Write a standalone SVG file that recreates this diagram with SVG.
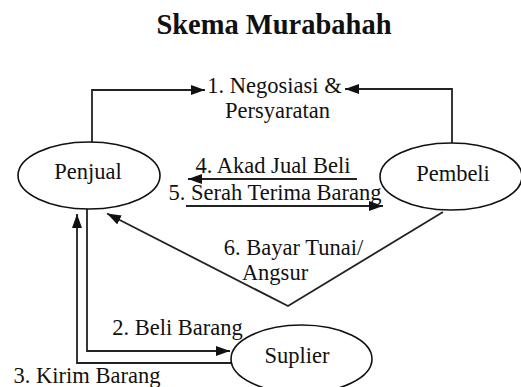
<svg xmlns="http://www.w3.org/2000/svg" width="521" height="387" viewBox="0 0 521 387">
<style>
text{font-family:'Liberation Serif','Times New Roman',Times,serif;font-size:22.5px;fill:#111;text-anchor:middle}
.title{font-size:28.5px;font-weight:bold}
.node ellipse{fill:#fff;stroke:#111;stroke-width:1.6}
.conn path{fill:none;stroke:#222;stroke-width:1.8;marker-end:url(#ah)}
</style>
<defs>
<marker id="ah" markerUnits="userSpaceOnUse" markerWidth="15" markerHeight="11" refX="14" refY="5" orient="auto">
<path d="M0,0 L14,5 L0,10 z" fill="#111"/>
</marker>
</defs>
<rect width="521" height="387" fill="#fff"/>
<text class="title" x="274" y="34" font-family="Liberation Serif, serif">Skema Murabahah</text>
<g class="conn" id="connectors">
<path d="M92,143 V90 H205"/>
<path d="M452,143 V89 H345"/>
<path d="M357,179 H188"/>
<path d="M186,206 H383"/>
<path d="M443,212 L288,306 L107,213.5"/>
<path d="M87,209 V351 H230"/>
<path d="M231,363 H77 V214"/>
</g>
<g class="node" id="penjual" font-family="Liberation Serif, serif">
<ellipse cx="89" cy="175.5" rx="71" ry="33.5"/>
<text x="88" y="179">Penjual</text>
</g>
<g class="node" id="pembeli" font-family="Liberation Serif, serif">
<ellipse cx="451" cy="176.5" rx="71" ry="33.5"/>
<text x="453" y="181">Pembeli</text>
</g>
<g class="node" id="suplier" font-family="Liberation Serif, serif">
<ellipse cx="301.5" cy="359" rx="70.5" ry="34"/>
<text x="297" y="363">Suplier</text>
</g>
<g id="labels" font-family="Liberation Serif, serif">
<text x="274.5" y="93">1. Negosiasi &amp;</text>
<text x="277.5" y="118">Persyaratan</text>
<text x="273" y="173">4. Akad Jual Beli</text>
<text x="275" y="200">5. Serah Terima Barang</text>
<text x="293.5" y="255">6. Bayar Tunai/</text>
<text x="275" y="279.5">Angsur</text>
<text x="177.5" y="335">2. Beli Barang</text>
<text x="87" y="383">3. Kirim Barang</text>
</g>
</svg>
